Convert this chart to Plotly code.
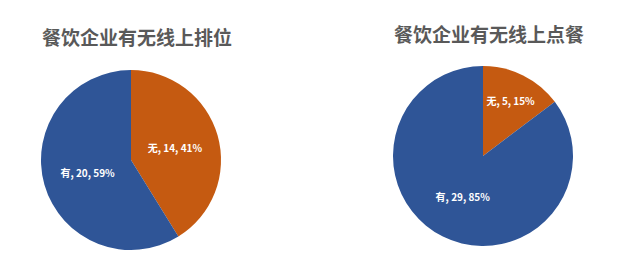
import plotly.graph_objects as go

categories = ["无", "有"]
rank_values = [14, 20]
order_values = [5, 29]
titles = ["餐饮企业有无线上排位", "餐饮企业有无线上点餐"]
colors = ["#C55A11", "#2F5597"]

W, H = 625, 275

def dom(x0, x1, y0, y1):
    return dict(x=[x0 / W, x1 / W], y=[1 - y1 / H, 1 - y0 / H])

fig = go.Figure()
for vals, d in [(rank_values, dom(41, 221, 70, 250)), (order_values, dom(393, 573, 66, 246))]:
    fig.add_trace(go.Pie(
        labels=categories, values=vals, sort=False, direction="clockwise", rotation=0,
        marker=dict(colors=colors, line=dict(width=0)),
        texttemplate="<b>%{label}, %{value}, %{percent:.0%}</b>",
        textposition="inside", insidetextorientation="horizontal",
        textfont=dict(family="Noto Sans CJK SC", size=10, color="white"),
        domain=d, showlegend=False, hoverinfo="skip",
    ))

for t, x, y in [(titles[0], 137, 37), (titles[1], 489, 33)]:
    fig.add_annotation(text="<b>%s</b>" % t, x=x / W, y=1 - y / H, xref="paper", yref="paper",
                       showarrow=False, xanchor="center", yanchor="middle",
                       font=dict(family="Noto Sans CJK SC", size=19, color="#595959"))

fig.update_layout(width=W, height=H, margin=dict(l=0, r=0, t=0, b=0),
                  paper_bgcolor="white", plot_bgcolor="white")
fig.write_html("out.html")
